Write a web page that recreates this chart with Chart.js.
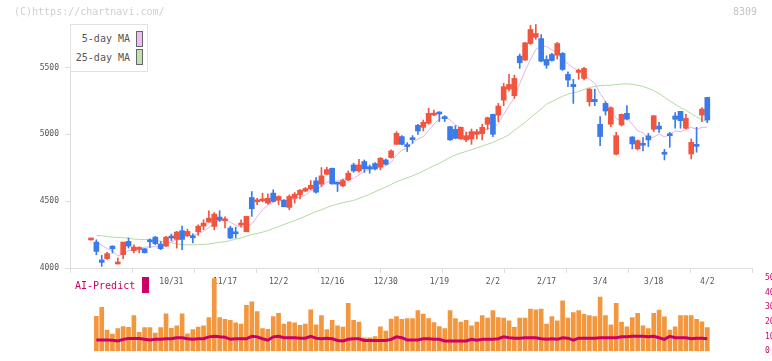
<!DOCTYPE html>
<html><head><meta charset="utf-8">
<script src="https://cdn.jsdelivr.net/npm/chart.js@4.4.1/dist/chart.umd.min.js"></script>
<style>
html,body{margin:0;padding:0;background:#fff;}
#wrap{position:relative;width:772px;height:361px;overflow:hidden;font-family:"DejaVu Sans Mono",monospace;background:#fff;}
canvas{position:absolute;left:0;top:0;}
.txt{position:absolute;font-size:10px;line-height:12px;white-space:nowrap;z-index:5;}
#legend{position:absolute;left:70px;top:24px;width:78px;height:48px;border:1px solid #e2e2e2;background:#fff;box-sizing:border-box;z-index:5;}
#legend .lt{position:absolute;left:0;width:59px;text-align:right;font-size:10px;line-height:12px;color:#555;}
#legend .lb{position:absolute;left:65px;width:7px;height:16px;box-sizing:border-box;border:1px solid #666;}
</style>
</head><body>
<div id="wrap">
<canvas id="price" width="772" height="361"></canvas>
<canvas id="vol" width="772" height="361"></canvas>
<div class="txt" style="left:14px;top:6px;color:#cfcfcf;">(C)https://chartnavi.com/</div>
<div class="txt" style="left:733px;top:6px;color:#c4c4c4;">8309</div>
<div id="legend">
  <div class="lt" style="top:8px;">5-day MA</div><div class="lb" style="top:6px;background:#efbdef;"></div>
  <div class="lt" style="top:27px;">25-day MA</div><div class="lb" style="top:24px;background:#bfe0b0;"></div>
</div>
<div class="txt" style="left:75px;top:280px;color:#cc0066;">AI-Predict</div>
<div style="position:absolute;left:142px;top:277px;width:7px;height:16px;background:#cc0066;z-index:5;"></div>
</div>
<script>
const dates = ['10/9','10/10','10/14','10/15','10/16','10/17','10/20','10/21','10/22','10/23','10/24','10/27','10/28','10/29','10/30','10/31',
'11/4','11/5','11/6','11/7','11/10','11/11','11/12','11/13','11/14','11/17',
'11/18','11/19','11/20','11/21','11/25','11/26','11/27','11/28','12/1','12/2',
'12/3','12/4','12/5','12/8','12/9','12/10','12/11','12/12','12/15','12/16',
'12/17','12/18','12/19','12/22','12/23','12/24','12/25','12/26','12/29','12/30',
'1/5','1/6','1/7','1/8','1/9','1/13','1/14','1/15','1/16','1/19',
'1/20','1/21','1/22','1/23','1/26','1/27','1/28','1/29','1/30','2/2',
'2/3','2/4','2/5','2/6','2/9','2/10','2/12','2/13','2/16','2/17',
'2/18','2/19','2/20','2/24','2/25','2/26','2/27','3/2','3/3','3/4',
'3/5','3/6','3/9','3/10','3/11','3/12','3/13','3/16','3/17','3/18',
'3/19','3/23','3/24','3/25','3/26','3/27','3/30','3/31','4/1','4/2'];

const open = [4210,4194,4060,4070,4164,4030,4100,4199,4129,4139,
4144,4201,4231,4179,4164,4236,4214,4279,4241,4231,
4271,4313,4343,4311,4381,4353,4299,4261,4321,4271,
4527,4495,4502,4485,4560,4507,4507,4453,4522,4547,
4575,4592,4652,4627,4701,4746,4632,4614,4659,4771,
4726,4796,4758,4781,4754,4808,4826,4925,4983,4910,
4965,5067,5052,5082,5144,5154,5122,5057,5037,4965,
4958,4965,5000,5005,5075,5149,5144,5256,5338,5289,
5585,5555,5679,5726,5716,5560,5597,5592,5605,5448,
5373,5463,5418,5244,5261,5075,5231,5075,4851,5070,
5157,4980,4891,4923,4988,5037,5062,4856,4995,5137,
5172,5045,4853,4915,5144,5276];

const high = [4218,4211,4095,4117,4166,4075,4194,4224,4174,4159,
4146,4219,4236,4199,4236,4254,4274,4313,4291,4256,
4323,4361,4428,4415,4428,4383,4313,4306,4361,4388,
4572,4522,4560,4555,4585,4540,4512,4547,4565,4587,
4602,4654,4677,4751,4754,4748,4642,4664,4726,4784,
4813,4808,4771,4789,4826,4816,4883,5020,4990,4938,
4990,5075,5107,5194,5182,5169,5139,5060,5065,5055,
5015,5040,5037,5075,5129,5152,5231,5381,5448,5443,
5600,5687,5816,5821,5746,5587,5605,5687,5612,5468,
5411,5488,5500,5343,5338,5132,5244,5206,5015,5152,
5214,4983,4958,4975,5007,5139,5090,4888,5015,5162,
5172,5149,4965,5052,5199,5276];

const low = [4208,4099,4012,4065,4112,4030,4070,4149,4112,4112,
4112,4154,4174,4137,4159,4204,4149,4137,4236,4187,
4244,4286,4343,4286,4348,4299,4219,4224,4308,4271,
4386,4473,4495,4478,4493,4473,4458,4435,4485,4517,
4572,4585,4560,4609,4697,4627,4572,4609,4652,4716,
4716,4716,4709,4734,4734,4771,4821,4925,4920,4871,
4933,5000,5025,5075,5139,5095,5095,4955,4968,4963,
4945,4925,4965,4958,5037,4983,5095,5214,5323,5269,
5493,5552,5672,5711,5542,5493,5547,5562,5478,5356,
5231,5411,5406,5211,5214,4915,5144,5057,4846,5062,
5107,4891,4883,4876,4908,5020,5015,4808,4903,5045,
5045,5040,4816,4866,5095,5087];

const close = [4216,4124,4042,4107,4144,4037,4194,4164,4157,4149,
4114,4196,4182,4144,4231,4224,4269,4214,4274,4226,
4313,4336,4373,4403,4358,4358,4224,4256,4331,4386,
4443,4505,4505,4522,4498,4535,4458,4535,4552,4582,
4595,4619,4567,4689,4736,4629,4627,4654,4709,4726,
4771,4741,4741,4741,4821,4776,4876,5007,4925,4908,
4960,5025,5090,5157,5152,5152,5117,4958,4970,5052,
4990,5020,5020,5052,5124,5000,5211,5356,5373,5418,
5535,5684,5784,5754,5547,5517,5552,5679,5485,5406,
5356,5473,5493,5338,5244,4983,5174,5199,4990,5149,
5114,4928,4953,4918,4958,5139,5040,4851,4990,5112,
5102,5119,4940,4910,5189,5107];

const ma5 = [null,4195,4170,4145,4127,4091,4105,4129,4139,4140,
4156,4156,4160,4157,4173,4195,4210,4216,4242,4241,
4259,4273,4304,4330,4357,4366,4343,4320,4305,4311,
4328,4384,4434,4472,4495,4513,4504,4510,4516,4532,
4544,4577,4583,4610,4641,4648,4650,4667,4671,4669,
4697,4720,4738,4744,4763,4764,4791,4844,4881,4898,
4935,4965,4982,5028,5077,5115,5134,5107,5070,5050,
5017,4998,5010,5027,5041,5043,5081,5149,5213,5272,
5379,5473,5559,5635,5661,5657,5631,5610,5556,5528,
5496,5480,5443,5413,5381,5306,5246,5188,5118,5099,
5125,5076,5027,5012,4974,4979,5002,4981,4996,5026,
5019,5035,5053,5037,5052,5053];

const ma25 = [null,4244,4241,4236,4231,4229,4226,4224,4216,4214,
4213,4211,4206,4201,4196,4190,4180,4174,4174,4174,
4174,4176,4180,4186,4192,4197,4205,4216,4225,4238,
4250,4258,4268,4280,4295,4310,4325,4340,4355,4370,
4388,4405,4422,4436,4452,4467,4478,4488,4497,4505,
4520,4535,4552,4570,4588,4606,4625,4645,4660,4675,
4690,4706,4725,4746,4765,4783,4805,4828,4845,4860,
4872,4885,4898,4912,4925,4940,4958,4975,4998,5030,
5060,5090,5125,5158,5190,5225,5245,5265,5285,5300,
5310,5320,5335,5350,5358,5364,5366,5368,5372,5376,
5377,5374,5366,5358,5343,5328,5305,5278,5250,5225,
5200,5180,5155,5130,5110,5095];

const volume = [null,23.9,30.0,14.4,11.7,15.5,16.9,16.3,24.3,12.9,
16.1,16.1,12.3,16.1,25.6,15.7,17.4,25.6,11.9,14.8,
16.5,17.4,23.0,49.6,23.0,21.8,21.1,19.3,18.6,31.3,
33.8,27.0,15.5,15.0,23.7,25.8,18.6,20.1,19.3,17.6,
18.6,28.3,18.0,24.3,14.8,21.1,17.4,16.5,32.7,21.1,
19.9,9.2,9.2,10.0,16.7,13.8,22.0,23.7,21.8,22.2,
22.2,27.7,25.4,22.2,19.5,16.9,15.5,27.7,22.2,19.9,
21.1,17.4,19.9,24.3,22.6,27.7,23.0,22.6,20.7,16.3,
22.6,22.6,28.7,28.3,28.7,18.6,23.7,20.7,34.4,22.6,
26.4,27.7,25.1,24.3,23.7,36.9,24.3,18.0,32.7,19.9,
16.7,23.0,25.8,17.4,15.5,25.8,28.1,23.5,14.4,16.7,
24.3,24.3,24.3,21.8,20.1,16.1];

const aiPredict = [null,7.7,7.7,7.7,7.5,7.0,8.1,8.7,8.7,8.7,
8.1,7.7,8.1,8.1,8.5,8.5,9.2,9.2,8.5,8.1,
8.5,8.5,9.8,10.2,9.8,9.6,8.1,8.5,8.5,8.5,
10.2,9.8,8.5,7.5,9.8,10.2,9.2,9.2,9.2,8.9,
8.9,10.2,8.9,8.5,8.9,8.5,7.3,7.0,8.1,8.5,
8.5,7.3,7.3,7.3,7.3,7.3,8.1,9.8,9.2,7.7,
7.7,7.7,8.5,8.5,8.1,8.1,7.0,7.0,7.0,7.0,
7.0,8.1,7.5,8.1,8.1,8.1,8.5,9.8,9.2,8.9,
8.9,9.2,9.2,9.2,8.5,8.1,8.5,8.1,9.2,8.9,
7.5,8.9,8.9,8.9,8.9,9.2,9.2,9.2,9.2,9.8,
9.8,10.2,10.2,10.2,9.8,10.2,9.2,8.1,10.2,9.2,
9.2,9.2,8.5,8.9,8.9,8.5];

const priceTicks = [4000,4500,5000,5500];
const dateTicks = ['10/31','11/17','12/2','12/16','12/30','1/19','2/2','2/17','3/4','3/18','4/2'];
const volTicks = [0,10,20,30,40,50];

// ---- styling / layout ----
const UP = '#f2553f', DOWN = '#3b7be9';
const X_MIN = -3.92, X_MAX = 123.34, GRID_N = 11;
const FONT = {family:'"DejaVu Sans Mono", monospace', size:8};
const idx = close.map((_, i) => i);
const candleColor = idx.map(i => close[i] >= open[i] ? UP : DOWN);
const wicks = idx.map(i => ({x:i, y:[low[i], high[i]]}));
const bodies = idx.map(i => ({x:i, y:[open[i], close[i]]}));
const toXY = arr => arr.map((v, i) => ({x:i, y:v}));
const labelIdx = dateTicks.map(d => dates.indexOf(d));
const gridPos = [];
for (let k = 0; k <= GRID_N; k++) gridPos.push(X_MIN + k * (X_MAX - X_MIN) / GRID_N);

Chart.defaults.animation = false;

new Chart(document.getElementById('price'), {
  type: 'bar',
  data: { datasets: [
    {type:'bar', data: bodies, backgroundColor: candleColor, barThickness: 5, grouped:false, minBarLength: 2, order: 0},
    {type:'bar', data: wicks, backgroundColor: candleColor, barThickness: 1, grouped:false, minBarLength: 1, order: 1},
    {type:'line', data: toXY(ma5), borderColor:'#e6b2e9', borderWidth:1, pointRadius:0, tension:0, order: 2},
    {type:'line', data: toXY(ma25), borderColor:'#b3daa3', borderWidth:1, pointRadius:0, tension:0, order: 3}
  ]},
  options: {
    responsive:false, animation:false,
    layout:{padding:{top:24, right:20, left:0, bottom:0}},
    plugins:{legend:{display:false}, tooltip:{enabled:false}},
    scales:{
      x:{type:'linear', min:X_MIN, max:X_MAX, offset:false,
        afterBuildTicks: s => {
          s.ticks = gridPos.map(v => ({value:v})).concat(labelIdx.map(v => ({value:v})))
                    .sort((a,b) => a.value - b.value);
        },
        afterFit: s => { s.height = 93; },
        grid:{display:true, drawOnChartArea:false, drawTicks:true, tickLength:5, offset:false,
              color: c => (c.tick && Number.isInteger(c.tick.value)) ? 'rgba(0,0,0,0)' : '#dddddd'},
        border:{display:true, color:'#dddddd', width:1},
        ticks:{autoSkip:false, maxRotation:0, padding:4, color:'#555', font:FONT,
               callback: v => Number.isInteger(v) && labelIdx.includes(v) ? dates[v] : ''}
      },
      y:{type:'linear', min:4000, max:5825,
        afterBuildTicks: s => { s.ticks = priceTicks.map(v => ({value:v})); },
        afterFit: s => { s.width = 70; },
        grid:{display:true, drawOnChartArea:false, tickLength:5, color:'#dddddd'},
        border:{display:true, color:'#dddddd', width:1},
        ticks:{padding:6, color:'#555', font:FONT, callback: v => String(v)}
      }
    }
  }
});

new Chart(document.getElementById('vol'), {
  type: 'bar',
  data: { datasets: [
    {type:'line', data: toXY(aiPredict), borderColor:'#cc0066', borderWidth:3, pointRadius:0, tension:0, order:0},
    {type:'bar', data: toXY(volume), backgroundColor:'#f2973e', barThickness:4, order:1}
  ]},
  options: {
    responsive:false, animation:false,
    layout:{padding:{top:278, right:0, left:70, bottom:4}},
    plugins:{legend:{display:false}, tooltip:{enabled:false}},
    scales:{
      x:{type:'linear', min:X_MIN, max:X_MAX, offset:false, display:false},
      y:{position:'right', min:0, max:50,
        afterBuildTicks: s => { s.ticks = volTicks.map(v => ({value:v})); },
        afterFit: s => { s.width = 20; },
        grid:{display:false}, border:{display:false},
        ticks:{padding:5, color:'#cc0066', font:FONT, callback: v => String(v)}
      }
    }
  }
});
</script>
</body></html>
